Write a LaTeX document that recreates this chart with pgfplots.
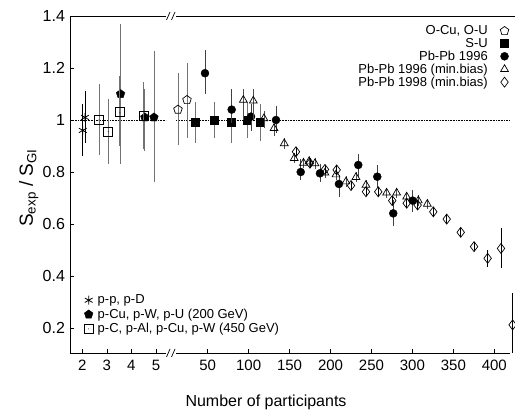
\documentclass[border=0pt]{standalone}
\usepackage{fontspec}
\setmainfont{Liberation Sans}
\usepackage{pgfplots}
\pgfplotsset{compat=1.18}

% open square with a dot in the middle
\pgfdeclareplotmark{sqdot}{%
  \pgfpathrectangle{\pgfqpoint{-\pgfplotmarksize}{-\pgfplotmarksize}}{\pgfqpoint{2\pgfplotmarksize}{2\pgfplotmarksize}}%
  \pgfusepathqstroke
  \pgfpathcircle{\pgfpointorigin}{0.5pt}%
  \pgfusepathqfill}

\pgfplotsset{
  brk/.style={
    scale only axis, height=337pt, ymin=0.104, ymax=1.4,
    axis line style={draw=none},
    tick align=inside, xtick pos=left, ytick pos=left,
    major tick length=4pt,
    every tick/.style={black, line width=0.6pt},
    clip mode=individual,
    /pgf/number format/assume math mode=true,
    xticklabel style={font=\fontsize{15}{15}\selectfont, yshift=-4pt},
    yticklabel style={font=\fontsize{16}{16}\selectfont, xshift=-1.5pt},
    error bars/y dir=both, error bars/y explicit,
    error bars/error mark=none,
    error bars/error bar style={black!55, line width=0.9pt},
    legend image code/.code={\draw[#1] plot coordinates {(0pt,0pt)};},
  },
}

\begin{document}
\begin{tikzpicture}[x=1pt,y=1pt]
\path[use as bounding box] (0,0) rectangle (515,411);

% ---------- left part: small systems ----------
\begin{axis}[brk, at={(70pt,58pt)}, anchor=south west, width=96pt,
  xmin=1.5, xmax=5.41, xtick={2,3,4,5},
  ytick={0.2,0.4,0.6,0.8,1,1.2,1.4},
  ylabel={S\textsubscript{exp} / S\textsubscript{GI}},
  ylabel style={at={(axis description cs:-0.43,0.49)}, anchor=center,
    font=\fontsize{19}{19}\selectfont},
  legend style={at={(axis description cs:0,0)}, anchor=south west,
    xshift=14pt, yshift=17pt, draw=none, fill=none,
    font=\fontsize{13}{13}\selectfont, row sep=0.5pt, column sep=3pt,
    inner sep=0pt, nodes={inner sep=1.5pt}},
  legend cell align=left,
]
\addplot[densely dotted, black, line width=0.6pt, forget plot] coordinates {(1.5,1) (5.41,1)};

\addplot[only marks, mark=asterisk, mark size=4.5pt, black, line width=0.8pt,
  error bars/error bar style={black, line width=0.8pt}] coordinates {
  (2.02,0.96) += (0,0.10) -= (0,0.10)
  (2.11,1.01) += (0,0.10) -= (0,0.10)
};
\addplot[only marks, mark=pentagon*, mark size=4.5pt, black] coordinates {
  (3.56,1.10) += (0,0.27) -= (0,0.27)
  (4.55,1.01) += (0,0.11) -= (0,0.13)
  (4.92,1.01) += (0,0.255) -= (0,0.25)
};
\addplot[only marks, mark=sqdot, mark size=4.5pt, black, line width=0.7pt] coordinates {
  (2.68,1.00) += (0,0.14) -= (0,0.135)
  (3.06,0.955) += (0,0.125) -= (0,0.125)
  (3.53,1.03) += (0,0.14) -= (0,0.13)
  (4.51,1.015) += (0,0.13) -= (0,0.125)
};
\legend{{p-p, p-D}, {p-Cu, p-W, p-U (200 GeV)}, {p-C, p-Al, p-Cu, p-W (450 GeV)}}
\draw[line width=0.7pt] (rel axis cs:1,0) -- (rel axis cs:0,0) -- (rel axis cs:0,1) -- (rel axis cs:1,1);
\end{axis}

% ---------- right part: nucleus-nucleus ----------
\begin{axis}[brk, at={(176pt,58pt)}, anchor=south west, width=339pt,
  xmin=11.3, xmax=425.3, xtick={50,100,...,400}, ytick=\empty,
  xlabel={Number of participants},
  xlabel style={at={(axis description cs:0.2655,0)}, anchor=base, yshift=-54pt,
    font=\fontsize{16}{16}\selectfont},
  legend style={at={(axis description cs:0.9853,1)}, anchor=north east,
    xshift=-1pt, yshift=-8pt, draw=none, fill=none,
    font=\fontsize{13}{13}\selectfont, row sep=-1pt, column sep=11pt,
    inner sep=0pt, nodes={inner sep=1.5pt}},
  legend plot pos=right, legend cell align=right,
]
\addplot[densely dotted, black, line width=0.6pt, forget plot] coordinates {(11.3,1) (419.2,1)};

\addplot[only marks, mark=pentagon, mark size=4.5pt, black, line width=0.7pt] coordinates {
  (13.7,1.04) += (0,0.14) -= (0,0.135)
  (24.7,1.077) += (0,0.143) -= (0,0.147)
};
\addplot[only marks, mark=square*, mark size=4pt, black] coordinates {
  (35.1,0.99) += (0,0.08) -= (0,0.08)
  (58.1,1.00) += (0,0.07) -= (0,0.07)
  (78.5,0.99) += (0,0.08) -= (0,0.08)
  (98.4,1.00) += (0,0.07) -= (0,0.07)
  (114.7,0.99) += (0,0.07) -= (0,0.07)
};
\addplot[only marks, mark=*, mark size=4pt, black,
  error bars/error bar style={black!75, line width=0.9pt}] coordinates {
  (46.7,1.18) += (0,0.09) -= (0,0.08)
  (79.3,1.04) += (0,0.08) -= (0,0.05)
  (102.9,1.013) += (0,0.05) -= (0,0.055)
  (133.4,1.00) += (0,0.055) -= (0,0.05)
  (163.6,0.80) += (0,0.05) -= (0,0.03)
  (187.1,0.795) += (0,0.035) -= (0,0.035)
  (210.3,0.754) += (0,0.036) -= (0,0.05)
  (233.9,0.827) += (0,0.043) -= (0,0.047)
  (257.1,0.782) += (0,0.045) -= (0,0.042)
  (276.6,0.641) += (0,0.05) -= (0,0.05)
  (300.3,0.69) += (0,0.04) -= (0,0.043)
};
\addplot[only marks, mark=triangle, mark size=4.5pt, black, line width=0.7pt,
  error bars/error bar style={black!70, line width=0.8pt}] coordinates {
  (93.5,1.077) += (0,0.043) -= (0,0.077)
  (105.7,1.074) += (0,0.046) -= (0,0.074)
  (118.7,1.006) += (0,0.03) -= (0,0.035)
  (131.0,0.968) += (0,0.02) -= (0,0.03)
  (143.5,0.91) += (0,0.02) -= (0,0.02)
  (155.7,0.853) += (0,0.02) -= (0,0.02)
  (167.0,0.835) += (0,0.02) -= (0,0.02)
  (173.7,0.84) += (0,0.02) -= (0,0.02)
  (181.0,0.833) += (0,0.02) -= (0,0.02)
  (193.2,0.797) += (0,0.02) -= (0,0.02)
  (206.7,0.79) += (0,0.02) -= (0,0.02)
  (218.9,0.763) += (0,0.02) -= (0,0.02)
  (231.1,0.78) += (0,0.02) -= (0,0.02)
  (243.3,0.75) += (0,0.02) -= (0,0.02)
  (268.5,0.72) += (0,0.02) -= (0,0.02)
  (280.8,0.72) += (0,0.02) -= (0,0.02)
  (293.0,0.705) += (0,0.02) -= (0,0.02)
  (307.2,0.69) += (0,0.02) -= (0,0.02)
  (318.2,0.677) += (0,0.02) -= (0,0.02)
};
\addplot[only marks, mark=diamond, mark size=5pt, black, line width=0.7pt,
  error bars/error bar style={black, line width=0.8pt}] coordinates {
  (157.8,0.878) += (0,0.018) -= (0,0.018)
  (174.9,0.834) += (0,0.018) -= (0,0.018)
  (193.2,0.81) += (0,0.018) -= (0,0.018)
  (207.5,0.808) += (0,0.018) -= (0,0.018)
  (225.0,0.748) += (0,0.018) -= (0,0.018)
  (243.3,0.724) += (0,0.018) -= (0,0.018)
  (258.3,0.724) += (0,0.018) -= (0,0.018)
  (275.4,0.69) += (0,0.018) -= (0,0.018)
  (293.0,0.68) += (0,0.018) -= (0,0.018)
  (306.4,0.673) += (0,0.018) -= (0,0.018)
  (325.5,0.647) += (0,0.018) -= (0,0.018)
  (341.9,0.619) += (0,0.018) -= (0,0.018)
  (359.0,0.568) += (0,0.018) -= (0,0.018)
  (375.3,0.513) += (0,0.018) -= (0,0.018)
  (391.9,0.468) += (0,0.032) -= (0,0.035)
  (408.2,0.506) += (0,0.077) -= (0,0.076)
  (422.4,0.212) += (0,0.123) -= (0,0.212)
};
\legend{{O-Cu, O-U}, S-U, Pb-Pb 1996, Pb-Pb 1996 (min.bias), Pb-Pb 1998 (min.bias)}
\draw[line width=0.7pt] (rel axis cs:0,0) -- (rel axis cs:0.9853,0);
\draw[line width=0.7pt] (rel axis cs:0,1) -- (rel axis cs:1,1);
\end{axis}

% axis break marks
\draw[line width=0.7pt] (166.5,391) -- (170,399) (171.5,391) -- (175,399);
\draw[line width=0.7pt] (166.5,54) -- (170,62) (171.5,54) -- (175,62);
\end{tikzpicture}
\end{document}
